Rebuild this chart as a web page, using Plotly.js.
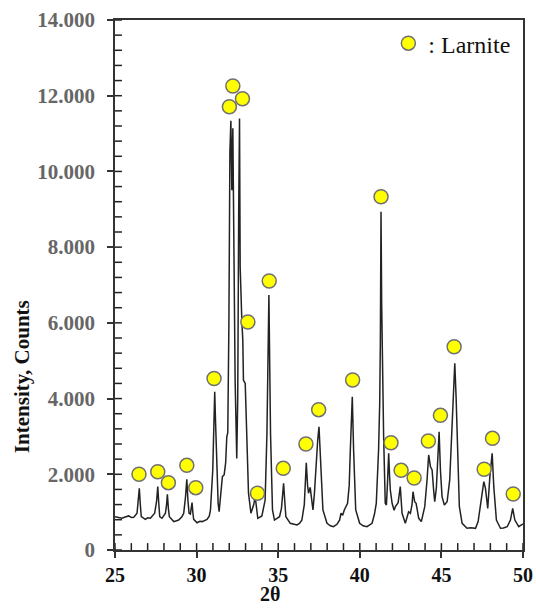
<!DOCTYPE html>
<html>
<head>
<meta charset="utf-8">
<script src="https://cdn.plot.ly/plotly-3.0.1.min.js"></script>
<style>html,body{margin:0;padding:0;background:#fff;}#chart{width:536px;height:613px;}</style>
</head>
<body>
<div id="chart"></div>
<script>
// XRD pattern (2θ, counts)
const twoTheta = [
25.00,25.20,25.43,25.62,25.84,26.00,26.15,26.35,26.42,26.49,26.55,26.61,26.86,27.00,27.17,27.43,27.55,27.62,27.68,27.74,
27.88,28.09,28.16,28.21,28.27,28.33,28.60,28.90,29.10,29.21,29.32,29.40,29.47,29.54,29.62,29.72,29.78,29.82,30.03,30.20,
30.34,30.50,30.64,30.78,30.85,30.99,31.07,31.11,31.16,31.21,31.32,31.38,31.45,31.58,31.69,31.78,31.85,31.91,31.98,32.04,
32.10,32.16,32.22,32.28,32.36,32.46,32.52,32.58,32.63,32.67,32.72,32.77,32.83,32.87,32.98,33.02,33.10,33.18,33.33,33.50,
33.59,33.66,33.75,34.00,34.20,34.31,34.43,34.53,34.65,34.77,35.08,35.20,35.33,35.40,35.47,35.74,35.90,36.15,36.30,36.45,
36.60,36.72,36.80,36.86,36.96,37.05,37.13,37.22,37.31,37.42,37.50,37.58,37.66,37.74,37.99,38.20,38.39,38.60,38.76,38.85,
38.95,39.05,39.25,39.35,39.42,39.54,39.62,39.68,39.75,39.99,40.20,40.44,40.60,40.75,40.90,41.01,41.15,41.22,41.26,41.30,
41.34,41.38,41.46,41.56,41.63,41.70,41.77,41.82,41.87,41.98,42.10,42.18,42.35,42.48,42.54,42.59,42.79,42.99,43.10,43.20,
43.26,43.36,43.45,43.61,43.77,43.98,44.12,44.22,44.33,44.43,44.52,44.59,44.69,44.77,44.86,44.94,45.04,45.18,45.35,45.51,
45.66,45.72,45.82,45.90,45.98,46.10,46.27,46.57,46.80,47.09,47.25,47.39,47.50,47.60,47.70,47.84,47.97,48.11,48.21,48.37,
48.62,48.80,49.03,49.23,49.37,49.50,49.74,50.00
];
const counts = [
880,860,837,870,900,860,865,970,1250,1630,1200,880,810,850,837,970,1300,1673,1250,880,
837,970,1200,1470,1100,880,750,790,880,970,1400,1867,1300,970,950,1250,950,810,720,760,
750,790,810,900,1057,2113,3600,4180,3400,2555,1233,1010,1300,1937,1990,2300,2990,3100,6000,10500,
11340,9500,11140,8000,4500,2420,4000,9000,11400,7480,6500,6075,5550,4490,4400,3740,2200,1500,970,1200,
1410,1100,837,900,1320,3080,6735,3080,1057,790,880,1100,1760,1300,880,705,680,660,700,790,
1200,2305,1700,1500,1655,1300,1057,1500,2290,2900,3257,2640,1700,1057,705,640,615,680,790,970,
920,1057,1233,1700,2640,4050,2640,1600,1057,705,640,615,660,705,950,1233,2640,3875,5500,8935,
6500,4755,2990,1233,1190,1800,2555,2000,1585,1233,1050,1145,1250,1673,1300,970,705,1010,970,1200,
1540,1275,1233,837,750,1145,1850,2510,2200,2113,1600,1275,1630,2420,3125,2113,1410,1190,1275,1850,
3435,4140,4930,4050,2555,1145,705,573,590,573,750,1145,1500,1805,1630,1100,1937,2555,1673,790,
573,580,615,790,1100,790,615,690
];

// Larnite peak labels (marker positions)
const larniteX = [26.47,27.62,28.27,29.40,29.95,31.07,32.01,32.22,32.81,33.14,33.73,34.45,35.31,36.70,37.48,39.56,41.30,41.91,42.53,43.33,44.20,44.94,45.78,47.62,48.13,49.40];
const larniteY = [2000,2068,1778,2237,1646,4530,11709,12256,11920,6022,1498,7105,2158,2800,3706,4490,9332,2834,2105,1902,2879,3558,5370,2132,2950,1479];

// axis ticks
const xMajorTicks = [25,30,35,40,45,50];
const xMinorTicks = [25,26,27,28,29,30,31,32,33,34,35,36,37,38,39,40,41,42,43,44,45,46,47,48,49,50];
const yMajorTicks = [0,2000,4000,6000,8000,10000,12000,14000];
const yMinorTicks = [0,400,800,1200,1600,2000,2400,2800,3200,3600,4000,4400,4800,5200,5600,6000,6400,6800,7200,7600,
  8000,8400,8800,9200,9600,10000,10400,10800,11200,11600,12000,12400,12800,13200,13600,14000];

const serif = '"Liberation Serif"';
const xRange = [25, 50];
const yRange = [0, 14000];

const traces = [
  {
    x: twoTheta, y: counts, type: 'scatter', mode: 'lines',
    line: {color: '#222', width: 1.5},
    showlegend: false, hoverinfo: 'skip'
  },
  {
    x: larniteX, y: larniteY, type: 'scatter', mode: 'markers',
    name: ': Larnite',
    marker: {size: 14, color: '#ffff00', line: {color: '#707070', width: 1.5}},
    showlegend: true
  }
];

// inward minor tick marks, placed through the axis scales
const tickStyle = {color: '#222', width: 1.5};
const minorShapes = xMinorTicks.map(function (v) {
  return {type: 'line', layer: 'above', xref: 'x', yref: 'paper', x0: v, x1: v, y0: 0, y1: 0.013, line: tickStyle};
}).concat(yMinorTicks.map(function (v) {
  return {type: 'line', layer: 'above', xref: 'paper', yref: 'y', x0: 0, x1: 0.017, y0: v, y1: v, line: tickStyle};
}));

const layout = {
  width: 536, height: 613,
  margin: {l: 115, r: 13, t: 20, b: 63},
  paper_bgcolor: '#fff', plot_bgcolor: '#fff',
  separators: ',.',
  font: {family: serif, color: '#000'},
  xaxis: {
    range: xRange, tickmode: 'array', tickvals: xMajorTicks,
    showgrid: false, zeroline: false,
    showline: true, linecolor: '#333', linewidth: 1.5, mirror: true,
    ticks: 'outside', ticklen: 6, tickwidth: 1.5, tickcolor: '#333',
    tickfont: {family: serif, size: 20, color: '#111', weight: 'bold'},
    ticklabelstandoff: 0
  },
  yaxis: {
    range: yRange, tickmode: 'array', tickvals: yMajorTicks, tickformat: ',d',
    showgrid: false, zeroline: false,
    showline: true, linecolor: '#333', linewidth: 1.5, mirror: true,
    ticks: 'outside', ticklen: 6, tickwidth: 1.5, tickcolor: '#333',
    tickfont: {family: serif, size: 21, color: '#666', weight: 'bold'},
    ticklabelstandoff: 8
  },
  shapes: minorShapes,
  legend: {
    x: 0.67, y: 0.998, xanchor: 'left', yanchor: 'top',
    bgcolor: 'rgba(0,0,0,0)', borderwidth: 0,
    font: {family: serif, size: 24, color: '#111'},
    itemwidth: 30
  },
  annotations: [
    {text: 'Intensity, Counts', xref: 'paper', yref: 'paper', x: -0.228, y: 0.328,
     textangle: -90, showarrow: false, xanchor: 'center', yanchor: 'middle',
     font: {family: serif, size: 21, color: '#111', weight: 'bold'}},
    {text: '2θ', xref: 'paper', yref: 'paper', x: 0.38, y: -0.083,
     showarrow: false, xanchor: 'center', yanchor: 'middle',
     font: {family: serif, size: 20, color: '#111', weight: 'bold'}}
  ]
};

Plotly.newPlot('chart', traces, layout, {displayModeBar: false});
</script>
</body>
</html>
